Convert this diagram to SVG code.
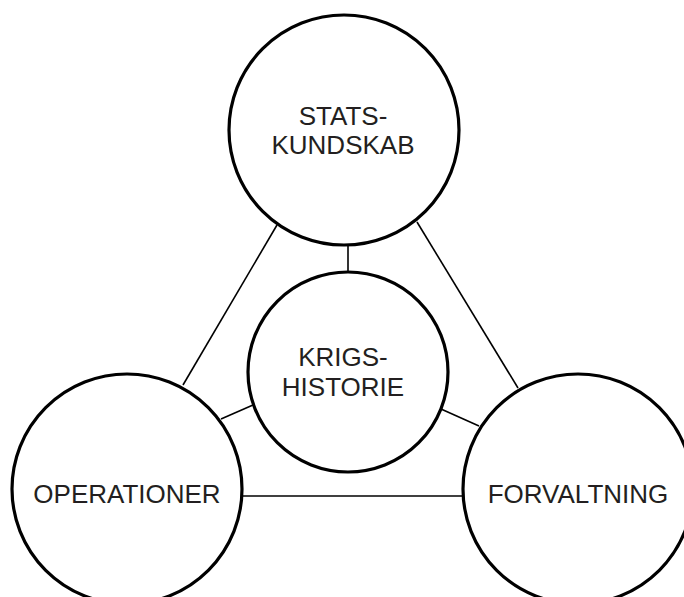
<svg xmlns="http://www.w3.org/2000/svg" width="684" height="597" viewBox="0 0 684 597">
<style>
.node{fill:#fff;stroke:#000;stroke-width:3.2}
.lbl{font-family:"Liberation Sans",Arial,sans-serif;font-size:26px;fill:#231f20;text-anchor:middle}
.conn line{stroke:#000;stroke-width:1.6}
</style>
<rect width="684" height="597" fill="#fff"/>
<g id="connectors" class="conn">
<line x1="348" y1="243" x2="348" y2="272"/>
<line x1="277" y1="225" x2="183" y2="385"/>
<line x1="417" y1="222" x2="518" y2="388"/>
<line x1="253" y1="405" x2="221" y2="419"/>
<line x1="441" y1="409" x2="479" y2="426"/>
<line x1="242" y1="496" x2="463" y2="496"/>
</g>
<g id="statskundskab">
<circle class="node" cx="344" cy="130" r="115"/>
<text class="lbl" x="343" y="125">STATS-</text>
<text class="lbl" x="343" y="154">KUNDSKAB</text>
</g>
<g id="krigshistorie">
<circle class="node" cx="348" cy="372" r="100"/>
<text class="lbl" x="343" y="366">KRIGS-</text>
<text class="lbl" x="343" y="396">HISTORIE</text>
</g>
<g id="operationer">
<circle class="node" cx="127" cy="489" r="115"/>
<text class="lbl" x="127" y="503">OPERATIONER</text>
</g>
<g id="forvaltning">
<circle class="node" cx="578" cy="489" r="115"/>
<text class="lbl" x="578" y="503">FORVALTNING</text>
</g>
</svg>
